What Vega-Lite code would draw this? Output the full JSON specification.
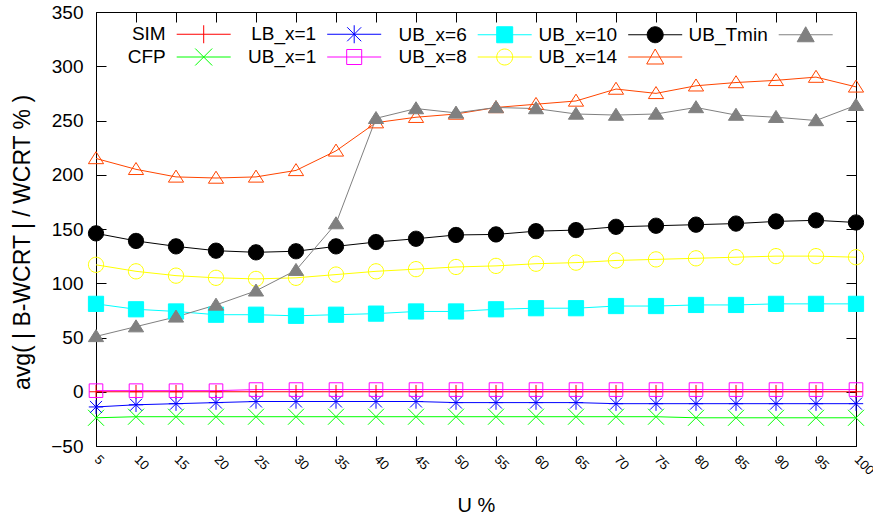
{
"$schema": "https://vega.github.io/schema/vega-lite/v6.json",
"width": 760, "height": 434,
"autosize": {"type": "none"},
"padding": {"left": 96, "top": 12, "right": 17, "bottom": 73},
"background": "white",
"config": {
  "view": {"stroke": "black", "strokeWidth": 1},
  "font": "Liberation Sans",
  "axis": {"domain": false, "grid": false, "ticks": true, "tickColor": "black", "tickWidth": 1, "tickSize": -10,
           "labelColor": "black", "titleColor": "black", "labelFont": "Liberation Sans", "titleFont": "Liberation Sans",
           "labelOverlap": false, "labelFlush": false, "labelBound": false, "titleFontWeight": "normal"}
},
"data": {"values": [
{"u":5,"s":"SIM","v":0},{"u":10,"s":"SIM","v":0},{"u":15,"s":"SIM","v":0},{"u":20,"s":"SIM","v":0},{"u":25,"s":"SIM","v":0},{"u":30,"s":"SIM","v":0},{"u":35,"s":"SIM","v":0},{"u":40,"s":"SIM","v":0},{"u":45,"s":"SIM","v":0},{"u":50,"s":"SIM","v":0},{"u":55,"s":"SIM","v":0},{"u":60,"s":"SIM","v":0},{"u":65,"s":"SIM","v":0},{"u":70,"s":"SIM","v":0},{"u":75,"s":"SIM","v":0},{"u":80,"s":"SIM","v":0},{"u":85,"s":"SIM","v":0},{"u":90,"s":"SIM","v":0},{"u":95,"s":"SIM","v":0},{"u":100,"s":"SIM","v":0},
{"u":5,"s":"CFP","v":-24},{"u":10,"s":"CFP","v":-23},{"u":15,"s":"CFP","v":-23},{"u":20,"s":"CFP","v":-23},{"u":25,"s":"CFP","v":-23},{"u":30,"s":"CFP","v":-23},{"u":35,"s":"CFP","v":-23},{"u":40,"s":"CFP","v":-23},{"u":45,"s":"CFP","v":-23},{"u":50,"s":"CFP","v":-23},{"u":55,"s":"CFP","v":-23},{"u":60,"s":"CFP","v":-23},{"u":65,"s":"CFP","v":-23},{"u":70,"s":"CFP","v":-23},{"u":75,"s":"CFP","v":-23},{"u":80,"s":"CFP","v":-24},{"u":85,"s":"CFP","v":-24},{"u":90,"s":"CFP","v":-24},{"u":95,"s":"CFP","v":-24},{"u":100,"s":"CFP","v":-24},
{"u":5,"s":"LB_x=1","v":-14},{"u":10,"s":"LB_x=1","v":-12},{"u":15,"s":"LB_x=1","v":-11},{"u":20,"s":"LB_x=1","v":-10},{"u":25,"s":"LB_x=1","v":-9},{"u":30,"s":"LB_x=1","v":-9},{"u":35,"s":"LB_x=1","v":-9},{"u":40,"s":"LB_x=1","v":-9},{"u":45,"s":"LB_x=1","v":-9},{"u":50,"s":"LB_x=1","v":-10},{"u":55,"s":"LB_x=1","v":-10},{"u":60,"s":"LB_x=1","v":-10},{"u":65,"s":"LB_x=1","v":-10},{"u":70,"s":"LB_x=1","v":-11},{"u":75,"s":"LB_x=1","v":-11},{"u":80,"s":"LB_x=1","v":-11},{"u":85,"s":"LB_x=1","v":-11},{"u":90,"s":"LB_x=1","v":-11},{"u":95,"s":"LB_x=1","v":-11},{"u":100,"s":"LB_x=1","v":-11},
{"u":5,"s":"UB_x=1","v":1},{"u":10,"s":"UB_x=1","v":1},{"u":15,"s":"UB_x=1","v":1},{"u":20,"s":"UB_x=1","v":1},{"u":25,"s":"UB_x=1","v":2},{"u":30,"s":"UB_x=1","v":2},{"u":35,"s":"UB_x=1","v":2},{"u":40,"s":"UB_x=1","v":2},{"u":45,"s":"UB_x=1","v":2},{"u":50,"s":"UB_x=1","v":2},{"u":55,"s":"UB_x=1","v":2},{"u":60,"s":"UB_x=1","v":2},{"u":65,"s":"UB_x=1","v":2},{"u":70,"s":"UB_x=1","v":2},{"u":75,"s":"UB_x=1","v":2},{"u":80,"s":"UB_x=1","v":2},{"u":85,"s":"UB_x=1","v":2},{"u":90,"s":"UB_x=1","v":2},{"u":95,"s":"UB_x=1","v":2},{"u":100,"s":"UB_x=1","v":2},
{"u":5,"s":"UB_x=6","v":81},{"u":10,"s":"UB_x=6","v":76},{"u":15,"s":"UB_x=6","v":74},{"u":20,"s":"UB_x=6","v":71},{"u":25,"s":"UB_x=6","v":71},{"u":30,"s":"UB_x=6","v":70},{"u":35,"s":"UB_x=6","v":71},{"u":40,"s":"UB_x=6","v":72},{"u":45,"s":"UB_x=6","v":74},{"u":50,"s":"UB_x=6","v":74},{"u":55,"s":"UB_x=6","v":76},{"u":60,"s":"UB_x=6","v":77},{"u":65,"s":"UB_x=6","v":77},{"u":70,"s":"UB_x=6","v":79},{"u":75,"s":"UB_x=6","v":79},{"u":80,"s":"UB_x=6","v":80},{"u":85,"s":"UB_x=6","v":80},{"u":90,"s":"UB_x=6","v":81},{"u":95,"s":"UB_x=6","v":81},{"u":100,"s":"UB_x=6","v":81},
{"u":5,"s":"UB_x=8","v":117},{"u":10,"s":"UB_x=8","v":111},{"u":15,"s":"UB_x=8","v":107},{"u":20,"s":"UB_x=8","v":105},{"u":25,"s":"UB_x=8","v":104},{"u":30,"s":"UB_x=8","v":105},{"u":35,"s":"UB_x=8","v":108},{"u":40,"s":"UB_x=8","v":111},{"u":45,"s":"UB_x=8","v":113},{"u":50,"s":"UB_x=8","v":115},{"u":55,"s":"UB_x=8","v":116},{"u":60,"s":"UB_x=8","v":118},{"u":65,"s":"UB_x=8","v":119},{"u":70,"s":"UB_x=8","v":121},{"u":75,"s":"UB_x=8","v":122},{"u":80,"s":"UB_x=8","v":123},{"u":85,"s":"UB_x=8","v":124},{"u":90,"s":"UB_x=8","v":125},{"u":95,"s":"UB_x=8","v":125},{"u":100,"s":"UB_x=8","v":124},
{"u":5,"s":"UB_x=10","v":146},{"u":10,"s":"UB_x=10","v":139},{"u":15,"s":"UB_x=10","v":134},{"u":20,"s":"UB_x=10","v":130},{"u":25,"s":"UB_x=10","v":128.5},{"u":30,"s":"UB_x=10","v":129.5},{"u":35,"s":"UB_x=10","v":134},{"u":40,"s":"UB_x=10","v":138},{"u":45,"s":"UB_x=10","v":141},{"u":50,"s":"UB_x=10","v":144.5},{"u":55,"s":"UB_x=10","v":145},{"u":60,"s":"UB_x=10","v":148},{"u":65,"s":"UB_x=10","v":149},{"u":70,"s":"UB_x=10","v":152},{"u":75,"s":"UB_x=10","v":153},{"u":80,"s":"UB_x=10","v":154},{"u":85,"s":"UB_x=10","v":155},{"u":90,"s":"UB_x=10","v":157},{"u":95,"s":"UB_x=10","v":158},{"u":100,"s":"UB_x=10","v":156},
{"u":5,"s":"UB_x=14","v":215},{"u":10,"s":"UB_x=14","v":205},{"u":15,"s":"UB_x=14","v":198},{"u":20,"s":"UB_x=14","v":197},{"u":25,"s":"UB_x=14","v":198},{"u":30,"s":"UB_x=14","v":204},{"u":35,"s":"UB_x=14","v":222},{"u":40,"s":"UB_x=14","v":248},{"u":45,"s":"UB_x=14","v":253},{"u":50,"s":"UB_x=14","v":256},{"u":55,"s":"UB_x=14","v":262},{"u":60,"s":"UB_x=14","v":265},{"u":65,"s":"UB_x=14","v":268},{"u":70,"s":"UB_x=14","v":279},{"u":75,"s":"UB_x=14","v":275},{"u":80,"s":"UB_x=14","v":282},{"u":85,"s":"UB_x=14","v":285},{"u":90,"s":"UB_x=14","v":287},{"u":95,"s":"UB_x=14","v":290},{"u":100,"s":"UB_x=14","v":281},
{"u":5,"s":"UB_Tmin","v":51},{"u":10,"s":"UB_Tmin","v":60},{"u":15,"s":"UB_Tmin","v":69},{"u":20,"s":"UB_Tmin","v":80},{"u":25,"s":"UB_Tmin","v":93},{"u":30,"s":"UB_Tmin","v":112},{"u":35,"s":"UB_Tmin","v":155},{"u":40,"s":"UB_Tmin","v":252},{"u":45,"s":"UB_Tmin","v":261},{"u":50,"s":"UB_Tmin","v":257},{"u":55,"s":"UB_Tmin","v":262},{"u":60,"s":"UB_Tmin","v":261},{"u":65,"s":"UB_Tmin","v":256},{"u":70,"s":"UB_Tmin","v":255},{"u":75,"s":"UB_Tmin","v":256},{"u":80,"s":"UB_Tmin","v":262},{"u":85,"s":"UB_Tmin","v":255},{"u":90,"s":"UB_Tmin","v":253},{"u":95,"s":"UB_Tmin","v":250},{"u":100,"s":"UB_Tmin","v":264}
]},
"layer": [
 {
  "mark": {"type": "line", "strokeWidth": 1},
  "encoding": {
   "x": {"field": "u", "type": "quantitative", "scale": {"domain": [5, 100], "nice": false, "zero": false},
         "axis": {"orient": "bottom", "values": [5,10,15,20,25,30,35,40,45,50,55,60,65,70,75,80,85,90,95,100],
                  "labelAngle": 45, "labelAlign": "left", "labelBaseline": "middle", "labelFontSize": 13, "labelPadding": 21,
                  "title": "U %", "titleFontSize": 20, "titleX": 380, "titleY": 59, "titleBaseline": "middle", "titleAlign": "center"}},
   "y": {"field": "v", "type": "quantitative", "scale": {"domain": [-50, 350], "nice": false, "zero": false},
         "axis": {"orient": "left", "values": [-50,0,50,100,150,200,250,300,350], "labelFontSize": 19, "labelPadding": 23,
                  "title": "avg( | B-WCRT | / WCRT % )", "titleFontSize": 23, "titleX": -74, "titleY": 230, "titleAngle": -90,
                  "titleBaseline": "middle", "titleAlign": "center"}},
   "stroke": {"field": "s", "type": "nominal",
              "scale": {"domain": ["SIM","CFP","LB_x=1","UB_x=1","UB_x=6","UB_x=8","UB_x=10","UB_x=14","UB_Tmin"],
                        "range": ["#ff0000","#00ff00","#0000ff","#ff00ff","#00ffff","#ffff00","#000000","#ff4500","#808080"]},
              "legend": null}
  }
 },
 {
  "mark": {"type": "point", "filled": true, "opacity": 1, "size": 256, "strokeWidth": 1},
  "encoding": {
   "x": {"field": "u", "type": "quantitative", "scale": {"domain": [5, 100], "nice": false, "zero": false}, "axis": null},
   "y": {"field": "v", "type": "quantitative", "scale": {"domain": [-50, 350], "nice": false, "zero": false}, "axis": null},
   "shape": {"field": "s", "type": "nominal", "legend": null,
             "scale": {"domain": ["SIM","CFP","LB_x=1","UB_x=1","UB_x=6","UB_x=8","UB_x=10","UB_x=14","UB_Tmin"],
                       "range": ["M-0.85,0H0.85M0,-0.85V0.85",
                                 "M-1,-1L1,1M-1,1L1,-1",
                                 "M-0.9,0H0.9M0,-0.9V0.9M-0.75,-0.75L0.75,0.75M-0.75,0.75L0.75,-0.75",
                                 "M-0.85,-0.85H0.85V0.85H-0.85Z",
                                 "M-0.95,-0.95H0.95V0.95H-0.95Z",
                                 "M0.95,0A0.95,0.95,0,1,1,-0.95,0A0.95,0.95,0,1,1,0.95,0Z",
                                 "M0.95,0A0.95,0.95,0,1,1,-0.95,0A0.95,0.95,0,1,1,0.95,0Z",
                                 "M0,-0.85L0.95,0.65H-0.95Z",
                                 "M0,-0.85L0.95,0.65H-0.95Z"]}},
   "fill": {"field": "s", "type": "nominal", "legend": null,
            "scale": {"domain": ["SIM","CFP","LB_x=1","UB_x=1","UB_x=6","UB_x=8","UB_x=10","UB_x=14","UB_Tmin"],
                      "range": ["transparent","transparent","transparent","transparent","#00ffff","transparent","#000000","transparent","#808080"]}},
   "stroke": {"field": "s", "type": "nominal", "legend": null,
              "scale": {"domain": ["SIM","CFP","LB_x=1","UB_x=1","UB_x=6","UB_x=8","UB_x=10","UB_x=14","UB_Tmin"],
                        "range": ["#ff0000","#00ff00","#0000ff","#ff00ff","#00ffff","#ffff00","#000000","#ff4500","#808080"]}}
  }
 },
 {
  "transform": [{"filter": "false"}],
  "mark": {"type": "point", "filled": true, "opacity": 1, "strokeWidth": 1},
  "encoding": {
   "x": {"field": "u", "type": "quantitative", "scale": {"domain": [5, 100], "nice": false, "zero": false},
         "axis": {"orient": "top", "values": [5,10,15,20,25,30,35,40,45,50,55,60,65,70,75,80,85,90,95,100], "labels": false, "title": null}},
   "y": {"field": "v", "type": "quantitative", "scale": {"domain": [-50, 350], "nice": false, "zero": false},
         "axis": {"orient": "right", "values": [-50,0,50,100,150,200,250,300,350], "labels": false, "title": null}},
   "shape": {"field": "s", "type": "nominal",
             "scale": {"domain": ["SIM","CFP","LB_x=1","UB_x=1","UB_x=6","UB_x=8","UB_x=10","UB_x=14","UB_Tmin"],
                       "range": ["M-72,0L-72,0M20.5,0H74.5M47.5,-9V9",
                                 "M-72,0L-72,0M20.5,0H74.5M39,-8.5L56,8.5M39,8.5L56,-8.5",
                                 "M-72,0L-72,0M20.5,0H74.5M47.5,-9V9M40.5,-7L54.5,7M40.5,7L54.5,-7",
                                 "M-72,0L-72,0M20.5,0H74.5M40,-7.5H55V7.5H40Z",
                                 "M-72,0L-72,0M20.5,0H74.5M39.5,-8H55.5V8H39.5Z",
                                 "M-72,0L-72,0M20.5,0H74.5M55.5,0A8,8,0,1,1,39.5,0A8,8,0,1,1,55.5,0Z",
                                 "M-72,0L-72,0M20.5,0H74.5M55.5,0A8,8,0,1,1,39.5,0A8,8,0,1,1,55.5,0Z",
                                 "M-72,0L-72,0M20.5,0H74.5M47.5,-8L56,7H39Z",
                                 "M-72,0L-72,0M20.5,0H74.5M47.5,-8L56,7H39Z"]},
             "legend": {"title": null, "orient": "none", "legendX": 50.7, "legendY": 12.5, "columns": 5, "columnPadding": -0.5, "rowPadding": 1, "padding": 0,
                        "labelFont": "Liberation Sans", "labelFontSize": 19, "labelColor": "black", "labelAlign": "right", "labelOffset": 0, "labelLimit": 300,
                        "symbolSize": 4, "symbolStrokeWidth": 1, "symbolOffset": 0}},
   "fill": {"field": "s", "type": "nominal",
            "scale": {"domain": ["SIM","CFP","LB_x=1","UB_x=1","UB_x=6","UB_x=8","UB_x=10","UB_x=14","UB_Tmin"],
                      "range": ["transparent","transparent","transparent","transparent","#00ffff","transparent","#000000","transparent","#808080"]},
            "legend": {"title": null, "orient": "none", "legendX": 50.7, "legendY": 12.5, "columns": 5, "columnPadding": -0.5, "rowPadding": 1, "padding": 0,
                        "labelFont": "Liberation Sans", "labelFontSize": 19, "labelColor": "black", "labelAlign": "right", "labelOffset": 0, "labelLimit": 300,
                        "symbolSize": 4, "symbolStrokeWidth": 1, "symbolOffset": 0}},
   "stroke": {"field": "s", "type": "nominal",
              "scale": {"domain": ["SIM","CFP","LB_x=1","UB_x=1","UB_x=6","UB_x=8","UB_x=10","UB_x=14","UB_Tmin"],
                        "range": ["#ff0000","#00ff00","#0000ff","#ff00ff","#00ffff","#ffff00","#000000","#ff4500","#808080"]},
              "legend": {"title": null, "orient": "none", "legendX": 50.7, "legendY": 12.5, "columns": 5, "columnPadding": -0.5, "rowPadding": 1, "padding": 0,
                        "labelFont": "Liberation Sans", "labelFontSize": 19, "labelColor": "black", "labelAlign": "right", "labelOffset": 0, "labelLimit": 300,
                        "symbolSize": 4, "symbolStrokeWidth": 1, "symbolOffset": 0}}
  }
 }
],
"resolve": {"scale": {"shape": "independent", "fill": "independent", "stroke": "independent"},
            "axis": {"x": "independent", "y": "independent"}}
}
